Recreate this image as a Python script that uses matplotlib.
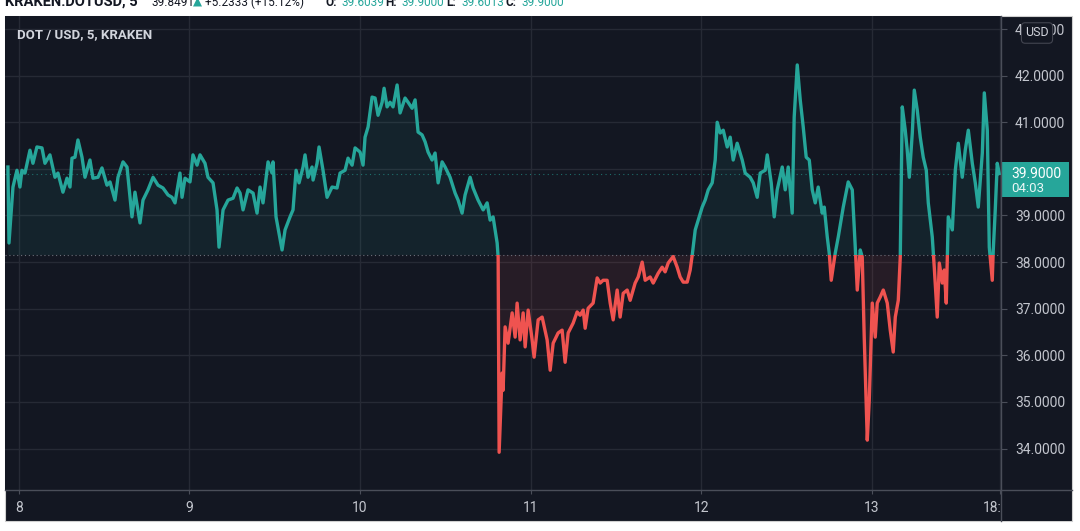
import numpy as np
import matplotlib.pyplot as plt
from matplotlib.patches import Rectangle
from matplotlib.lines import Line2D
import matplotlib.transforms as mtransforms

# ==============================
# Data (hours since Dec 8 00:00, DOT/USD close)
# ==============================
hours = [
    -1.51, -1.36, -0.80, -0.24, 0.18, 0.46, 0.89, 1.59, 2.01, 2.57, 3.28, 3.70, 4.40, 5.11, 5.53,
    6.23, 6.80, 7.22, 7.50, 7.92, 8.34, 8.91, 9.33, 10.03, 10.45, 11.16, 11.72, 12.42, 12.85, 13.55,
    13.97, 14.68, 15.24, 15.94, 16.36, 17.07, 17.49, 18.19, 18.90, 19.60, 20.30, 21.01, 21.57, 21.99,
    22.69, 22.98, 23.40, 24.10, 24.52, 25.09, 25.51, 26.21, 26.63, 27.34, 27.90, 28.18, 28.75, 29.45,
    30.15, 30.72, 31.14,
    31.56, 32.26, 32.97, 33.53, 33.95, 34.37, 35.08, 35.64, 35.78, 36.20, 36.62, 37.05, 37.47, 38.17,
    38.59, 39.02, 39.44, 40.00, 40.28, 40.70, 41.27, 41.41, 41.97, 42.25, 42.81, 43.38, 44.08, 44.78,
    45.21, 45.91, 46.33, 46.90, 47.32, 48.02, 48.44, 48.72, 49.15, 49.71, 50.13, 50.55, 51.12, 51.40,
    51.82, 52.24, 52.66, 53.23, 53.65, 54.35, 54.77, 55.34, 55.76, 56.18, 56.74, 57.17, 57.59, 58.15,
    58.57, 59.00, 59.56, 59.98, 60.68, 61.39, 61.81, 62.37, 62.79, 63.50, 63.92, 64.62, 65.33, 65.89,
    66.31, 66.73, 67.30,
    67.44, 67.58, 68.00, 68.14, 68.42, 68.84, 69.41, 69.83, 70.11, 70.53, 70.96, 71.24, 71.66, 72.22,
    72.50, 73.07, 73.63, 74.33, 74.76, 75.18, 75.88, 76.44, 76.86, 77.29, 77.99, 78.55, 78.97, 79.40,
    79.68, 80.10, 80.80, 81.37, 81.79, 82.21, 82.77, 83.20, 83.62, 84.18, 84.60, 85.03, 85.59, 86.01,
    86.71, 87.14, 87.70, 88.12, 88.82, 89.25, 89.95, 90.51, 90.93, 91.36, 92.06, 92.62, 93.04, 93.47,
    94.03, 94.45, 94.73,
    95.16, 95.58, 96.14, 96.56, 96.99, 97.55, 97.97, 98.25, 98.67, 99.10, 99.66, 100.08, 100.50,
    101.06, 101.77, 102.19, 102.89, 103.32, 103.88, 104.30, 105.00, 105.29, 105.85, 106.27, 106.69,
    107.40, 107.82, 108.24, 108.80, 109.08, 109.51, 109.93, 110.35, 110.77, 111.20, 111.62, 112.04,
    112.46, 113.02, 113.31, 113.73, 114.01, 114.29, 114.85, 115.28, 115.98, 116.68, 117.25, 117.67,
    117.95, 118.37, 118.65, 118.93, 119.36, 119.64, 120.06, 120.48, 120.76, 121.18, 121.61, 122.17,
    122.59, 123.01, 123.30, 123.72, 124.00, 124.28, 124.70, 124.98, 125.27, 125.69, 125.97, 126.39,
    126.81, 127.23, 127.66, 127.94, 128.50, 128.78, 129.20, 129.49, 129.91, 130.19, 130.47, 130.75,
    131.32, 131.74, 132.16, 132.72, 133.14, 133.57, 134.13, 134.55, 134.97, 135.54, 135.82, 136.24,
    136.52, 136.94, 137.08, 137.36, 137.64, 137.92,
]
prices = [
    40.04, 38.41, 39.61, 39.97, 39.61, 39.97, 39.91, 40.40, 40.12, 40.47, 40.45, 40.12, 40.30, 39.82, 39.91,
    39.50, 39.80, 39.61, 40.23, 40.25, 40.62, 40.25, 39.82, 40.19, 39.80, 39.82, 40.02, 39.65, 39.72, 39.33,
    39.82, 40.15, 40.04, 38.97, 39.50, 38.84, 39.33, 39.55, 39.82, 39.65, 39.59, 39.44, 39.39, 39.27,
    39.91, 39.39, 39.80, 39.72, 40.30, 40.08, 40.30, 40.12, 39.82, 39.70, 39.12, 38.32, 39.12, 39.33,
    39.37, 39.59, 39.48,
    39.12, 39.55, 39.48, 39.05, 39.61, 39.27, 40.15, 39.91, 40.15, 38.97, 38.62, 38.26, 38.69, 38.97,
    39.12, 39.97, 39.70, 40.04, 40.30, 39.82, 40.04, 39.76, 40.12, 40.47, 39.97, 39.39, 39.61, 39.59,
    39.91, 39.97, 40.23, 40.08, 40.45, 40.36, 40.08, 40.68, 40.90, 41.54, 41.52, 41.15, 41.43, 41.73,
    41.33, 41.43, 41.33, 41.80, 41.20, 41.52, 41.43, 41.30, 41.48, 40.79, 40.73, 40.58, 40.36, 40.19,
    40.34, 39.70, 40.15, 40.04, 39.82, 39.48, 39.33, 39.05, 39.44, 39.82, 39.59, 39.33, 39.12, 39.27,
    38.90, 38.97, 38.41,
    38.11, 33.92, 35.62, 35.25, 36.61, 36.26, 36.91, 36.39, 37.12, 36.33, 36.91, 36.18, 36.97, 36.33,
    35.96, 36.76, 36.82, 36.33, 35.68, 36.26, 36.48, 36.54, 35.85, 36.48, 36.69, 36.93, 36.86, 36.97,
    36.58, 37.01, 37.12, 37.66, 37.55, 37.61, 37.61, 37.12, 36.76, 37.40, 36.82, 37.33, 37.40, 37.18,
    37.55, 37.68, 38.00, 37.61, 37.68, 37.55, 37.76, 37.89, 37.79, 37.98, 38.12, 37.89, 37.68, 37.57,
    37.57, 37.83, 38.14,
    38.69, 38.90, 39.18, 39.33, 39.55, 39.70, 40.19, 41.00, 40.77, 40.83, 40.47, 40.68, 40.19,
    40.55, 40.19, 39.91, 39.82, 39.70, 39.39, 39.91, 39.97, 40.30, 39.70, 38.97, 39.55,
    40.04, 39.55, 40.04, 39.05, 41.11, 42.23, 41.48, 40.90, 40.25, 40.19, 39.55, 39.27,
    39.61, 39.05, 39.18, 38.54, 38.19, 37.61, 38.19, 38.54, 39.18, 39.72, 39.55, 38.32,
    37.40, 38.26, 38.11, 36.39, 34.18, 35.04, 37.12, 36.39, 37.12, 37.25, 37.40, 37.12,
    36.54, 36.07, 36.82, 37.18, 38.11, 41.33, 40.83, 40.40, 39.82, 40.77, 41.69, 41.26,
    40.68, 40.25, 39.97, 39.27, 38.54, 37.89, 36.82, 37.98, 37.55, 37.83, 37.12, 38.97,
    38.69, 39.97, 40.55, 39.82, 40.40, 40.83, 40.12, 39.70, 39.18, 40.34, 41.63, 40.83,
    38.32, 37.61, 38.26, 39.12, 40.12, 39.90,
]
baseline = 38.15
last_price = 39.90

day_ticks = [8, 9, 10, 11, 12, 13, 13.75]
day_labels = ["8", "9", "10", "11", "12", "13", "18:00"]
price_ticks = [34, 35, 36, 37, 38, 39, 40, 41, 42, 43]

# (text, weight, colour, left edge px, size)
header = [
    ("KRAKEN:DOTUSD, 5", "bold", "#131722", 5, 10.5),
    ("39.8491", "normal", "#131722", 151, 8.5),
    ("\u25b2", "normal", "#26a69a", 193, 8.5),
    ("+5.2333 (+15.12%)", "normal", "#131722", 205, 8.5),
    ("O:", "bold", "#131722", 326, 8.5),
    ("39.6039", "normal", "#26a69a", 342, 8.5),
    ("H:", "bold", "#131722", 385, 8.5),
    ("39.9000", "normal", "#26a69a", 402, 8.5),
    ("L:", "bold", "#131722", 446, 8.5),
    ("39.6013", "normal", "#26a69a", 461, 8.5),
    ("C:", "bold", "#131722", 505, 8.5),
    ("39.9000", "normal", "#26a69a", 521, 8.5),
]

# ==============================
# Styling
# ==============================
BG = "#131722"
GRID = "#262a35"
AXLINE = "#4a4e59"
TXT = "#c3c6ce"
UP = "#26a69a"
DOWN = "#ef5350"
plt.rcParams["font.family"] = ["Roboto", "DejaVu Sans"]

W, H = 1080, 531
fig = plt.figure(figsize=(W / 100, H / 100), dpi=100, facecolor="white")

# dark panel behind everything
fig.patches.append(Rectangle((5 / W, 1 - 521 / H), 1067 / W, 505 / H,
                             transform=fig.transFigure, fc=BG, ec="#d0d0d0", lw=0.8, zorder=-5))

ax = fig.add_axes([5 / W, 1 - 490 / H, 996 / W, 474 / H])
ax.set_facecolor(BG)

t = 8 + np.array(hours) / 24
p = np.array(prices)

ax.set_xlim(7.92, 13.757)
ax.set_ylim(33.11, 43.28)

# fills between price and baseline
ax.fill_between(t, p, baseline, where=p >= baseline, interpolate=True,
                color=UP, alpha=0.09, lw=0, zorder=2)
ax.fill_between(t, p, baseline, where=p < baseline, interpolate=True,
                color=DOWN, alpha=0.09, lw=0, zorder=2)

# line coloured by side of baseline
for col, y0, hgt in [(UP, baseline, 20), (DOWN, baseline - 20, 20)]:
    ln, = ax.plot(t, p, color=col, lw=2.4, solid_joinstyle="round", zorder=4)
    clip = Rectangle((7, y0), 8, hgt, transform=ax.transData)
    ln.set_clip_path(clip)

ax.axhline(baseline, color="#6b6f7a", lw=0.8, ls=(0, (1, 2.5)), zorder=3)
ax.axhline(last_price, color=UP, lw=0.8, ls=(0, (1, 3)), alpha=0.6, zorder=3)

# axes
ax.set_xticks(day_ticks)
ax.set_xticklabels(day_labels)
ax.set_yticks(price_ticks)
ax.set_yticklabels([f"{v:.4f}" for v in price_ticks])
ax.yaxis.tick_right()
ax.tick_params(axis="x", colors=TXT, labelsize=10, length=3, pad=5, color=AXLINE)
ax.tick_params(axis="y", colors=TXT, labelsize=10, length=4, pad=6, color=AXLINE)
ax.grid(True, color=GRID, lw=1)
ax.set_axisbelow(True)
for s in ax.spines.values():
    s.set_visible(False)

# legend-like title inside chart
ax.text(12 / 996, 1 - 19 / 474, "DOT / USD, 5, KRAKEN", transform=ax.transAxes,
        color="#d1d4dc", fontsize=9.5, fontweight="bold", va="center", ha="left", zorder=6)

# current price tag on the price scale
tr = mtransforms.blended_transform_factory(ax.transAxes, ax.transData)
ax.add_patch(Rectangle((1.0, last_price - 0.50), 68 / 996, 0.74, transform=tr,
                       fc=UP, ec="none", clip_on=False, zorder=8))
ax.text(1.0 + 10 / 996, last_price, "39.9000", transform=tr, color="white",
        fontsize=10, va="center", ha="left", clip_on=False, zorder=9)
ax.text(1.0 + 10 / 996, last_price - 0.33, "04:03", transform=tr, color="white",
        fontsize=9.5, va="center", ha="left", clip_on=False, zorder=9, alpha=0.9)

# cover for the time scale under the price scale (hides the end of "18:00")
fig.patches.append(Rectangle((1001 / W, 1 - 521 / H), 70 / W, 30 / H,
                             transform=fig.transFigure, fc=BG, ec="none", zorder=2))

# separator lines
fig.lines.append(Line2D([5 / W, 1072 / W], [1 - 490 / H] * 2, transform=fig.transFigure,
                        color=AXLINE, lw=1, zorder=3))
fig.lines.append(Line2D([1001 / W] * 2, [1 - 16 / H, 1 - 521 / H], transform=fig.transFigure,
                        color=AXLINE, lw=1, zorder=3))

# USD currency badge
fig.text(1037 / W, 1 - 33 / H, "USD", color="#d1d4dc", fontsize=9, ha="center", va="center",
         zorder=10, bbox=dict(boxstyle="round,pad=0.3", fc=BG, ec="#434651", lw=0.8))

# header line (clipped at the top edge)
for txt, weight, col, xpx, size in header:
    fig.text(xpx / W, 1 - 6 / H, txt, color=col, fontsize=size, fontweight=weight,
             ha="left", va="baseline", family=["Roboto", "DejaVu Sans"])

plt.savefig("out.png", dpi=100, facecolor="white")
